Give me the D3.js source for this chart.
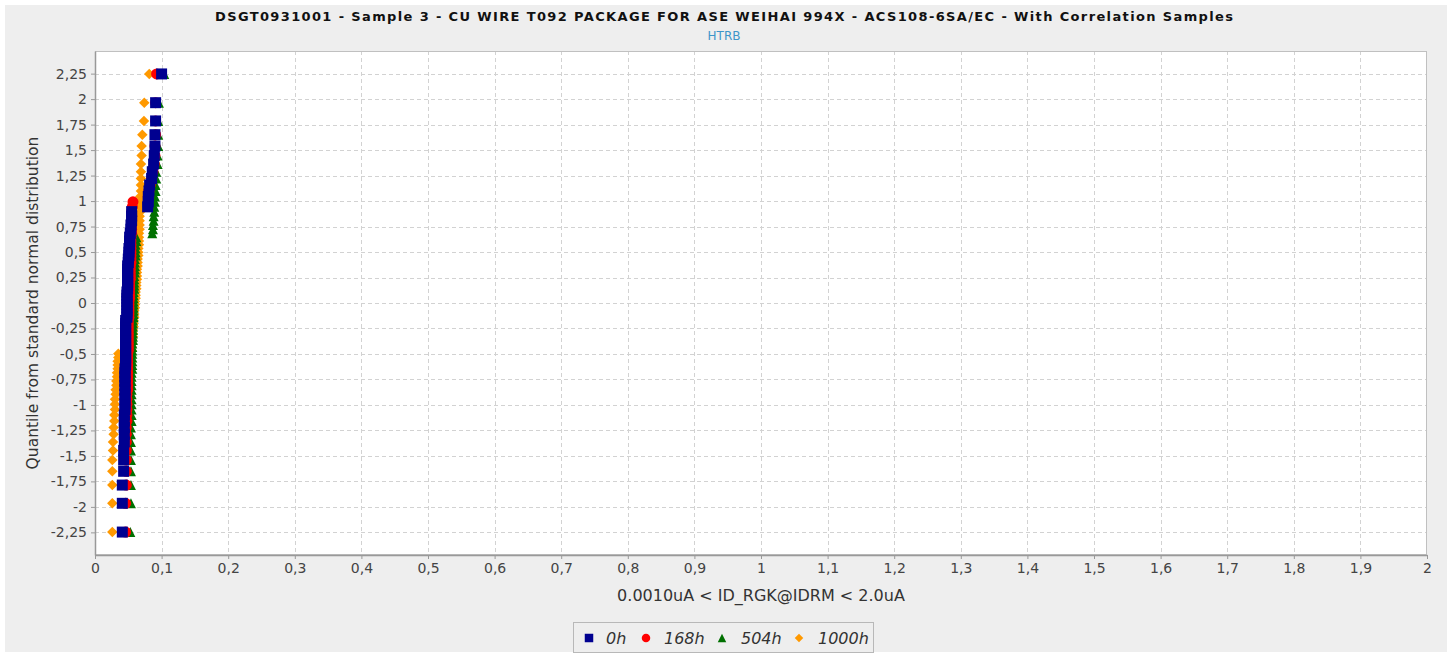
<!DOCTYPE html>
<html><head><meta charset="utf-8">
<script src="https://cdn.jsdelivr.net/npm/d3@7"></script>
<style>body{margin:0;background:#fff;} svg{display:block}</style>
</head><body><svg id="c" width="1452" height="657"></svg>
<script>
const chartTitle = "DSGT0931001 - Sample 3 - CU WIRE T092 PACKAGE FOR ASE WEIHAI 994X - ACS108-6SA/EC - With Correlation Samples";
const chartSubtitle = "HTRB";
const xLabel = "0.0010uA < ID_RGK@IDRM < 2.0uA";
const yLabel = "Quantile from standard normal distribution";
const seriesNames = ["0h", "168h", "504h", "1000h"];
const seriesColors = ["#000090", "#ff0000", "#007000", "#ff9900"];
const seriesShapes = ["square", "circle", "triangle", "diamond"];

// quantile (standard normal) of each ranked sample, 80 samples
const quantiles = [
 -2.247,-1.965,-1.786,-1.651,-1.540,-1.446,-1.363,-1.288,-1.221,-1.158,
 -1.099,-1.045,-0.992,-0.943,-0.896,-0.851,-0.807,-0.765,-0.724,-0.684,
 -0.646,-0.608,-0.571,-0.535,-0.499,-0.465,-0.431,-0.397,-0.364,-0.331,
 -0.298,-0.266,-0.234,-0.202,-0.171,-0.140,-0.108,-0.077,-0.046,-0.015,
  0.015, 0.046, 0.077, 0.108, 0.140, 0.171, 0.202, 0.234, 0.266, 0.298,
  0.331, 0.364, 0.397, 0.431, 0.465, 0.499, 0.535, 0.571, 0.608, 0.646,
  0.684, 0.724, 0.765, 0.807, 0.851, 0.896, 0.943, 0.992, 1.045, 1.099,
  1.158, 1.221, 1.288, 1.363, 1.446, 1.540, 1.651, 1.786, 1.965, 2.247
];

const values0h = [
 0.041,0.041,0.041,
 0.043,0.043,0.043,0.044,0.044,0.044,0.044,0.044,0.045,0.045,
 0.045,0.045,0.045,0.045,0.045,0.045,0.045,0.045,0.046,0.046,0.046,0.046,0.046,0.046,0.046,0.046,0.046,0.046,0.046,0.046,0.046,0.046,
 0.048,0.048,0.048,0.048,0.048,0.048,0.048,0.048,0.048,0.049,0.049,0.049,0.049,0.049,0.049,0.049,0.049,
 0.050,0.050,0.051,0.051,0.051,0.052,0.052,0.052,
 0.053,0.054,0.054,0.055,0.055,0.055,
 0.079,0.080,0.080,0.081,0.082,0.085,0.086,0.088,0.089,0.090,0.090,0.091,0.091,0.100
];
const values168h = [
 0.046,0.046,0.047,
 0.047,0.047,0.047,0.047,0.047,0.047,0.048,0.048,0.048,0.048,0.048,0.048,
 0.049,0.049,0.049,0.049,0.049,0.049,0.049,0.049,0.049,0.049,0.050,0.050,0.050,0.050,0.050,0.050,0.050,0.050,0.050,0.050,
 0.051,0.051,0.051,0.051,0.051,0.051,0.052,0.052,0.052,0.052,0.052,0.052,0.053,0.053,0.053,0.053,0.053,
 0.054,0.054,0.054,0.054,0.054,0.054,0.054,0.054,0.055,0.055,0.055,0.055,0.055,0.055,0.056,0.057,
 0.080,0.081,0.083,0.085,0.087,0.089,0.090,0.090,0.091,0.091,0.091,0.0925
];
const values504h = [
 0.053,0.054,0.054,
 0.054,0.054,0.054,0.054,0.054,0.054,0.055,0.055,0.055,0.055,0.055,0.055,
 0.055,0.055,0.055,0.055,0.055,0.056,0.056,0.056,0.056,0.056,0.056,0.056,0.056,0.057,0.057,0.057,0.057,0.057,0.057,0.057,0.058,0.058,0.058,0.058,0.058,
 0.058,0.058,0.058,0.058,0.059,0.059,0.059,0.059,0.059,0.060,0.060,0.060,0.060,0.060,0.061,0.061,0.061,0.061,0.062,0.062,
 0.086,0.087,0.087,0.088,0.088,0.089,0.089,0.090,0.090,0.091,0.091,0.092,0.092,0.094,0.094,0.095,0.095,0.095,0.096,0.104
];
const values1000h = [
 0.026,0.026,0.026,0.026,0.026,0.027,0.027,0.028,0.028,0.029,0.029,0.030,0.030,0.030,0.031,0.031,0.032,0.032,0.033,0.033,0.034,0.034,0.034,0.035,0.035,
 0.055,0.055,0.056,0.056,0.057,0.057,0.057,0.058,0.058,0.058,0.059,0.059,0.059,0.060,0.060,
 0.060,0.061,0.061,0.061,0.062,0.062,0.062,0.063,0.063,0.063,0.063,0.064,0.064,0.064,0.065,0.065,0.065,0.066,0.066,0.066,
 0.066,0.067,0.067,0.067,0.067,0.068,0.068,0.068,0.068,0.069,0.069,0.069,
 0.069,0.069,0.070,0.070,0.071,0.0735,0.074,0.0815
];
const seriesValues = [values0h, values168h, values504h, values1000h];

const xTicks = [0,0.1,0.2,0.3,0.4,0.5,0.6,0.7,0.8,0.9,1,1.1,1.2,1.3,1.4,1.5,1.6,1.7,1.8,1.9,2];
const yTicks = [-2.25,-2,-1.75,-1.5,-1.25,-1,-0.75,-0.5,-0.25,0,0.25,0.5,0.75,1,1.25,1.5,1.75,2,2.25];

const svg = d3.select("#c");
const W = 1452, H = 657;
const plot = {left: 95, right: 1427, top: 51, bottom: 555};
const FONT = "'DejaVu Sans', sans-serif";

const loc = d3.formatLocale({decimal: ",", thousands: ".", grouping: [3], currency: ["", ""], minus: "-"});
const fmt = loc.format("~g");

svg.append("rect").attr("x", 5).attr("y", 5).attr("width", W - 10).attr("height", H - 10).attr("fill", "#eeeeee");

const x = d3.scaleLinear().domain([0, 2]).range([plot.left, plot.right]);
const y = d3.scaleLinear().domain([-2.472, 2.472]).range([plot.bottom, plot.top]);

// plot background
svg.append("rect").attr("x", plot.left).attr("y", plot.top)
  .attr("width", plot.right - plot.left).attr("height", plot.bottom - plot.top)
  .attr("fill", "#ffffff");

// grid
const grid = svg.append("g").attr("stroke", "#d2d2d2").attr("stroke-width", 1).attr("stroke-dasharray", "4,3");
grid.selectAll("line.v").data(xTicks.filter(d => d > 0 && d < 2)).join("line")
  .attr("x1", d => Math.round(x(d)) + 0.5).attr("x2", d => Math.round(x(d)) + 0.5)
  .attr("y1", plot.top).attr("y2", plot.bottom);
grid.selectAll("line.h").data(yTicks).join("line")
  .attr("y1", d => Math.round(y(d)) + 0.5).attr("y2", d => Math.round(y(d)) + 0.5)
  .attr("x1", plot.left).attr("x2", plot.right);

// plot outline
svg.append("rect").attr("x", plot.left + 0.5).attr("y", plot.top + 0.5)
  .attr("width", plot.right - plot.left - 1).attr("height", plot.bottom - plot.top - 1)
  .attr("fill", "none").attr("stroke", "#c0c0c0").attr("stroke-width", 1);

// shapes
function shapePath(kind, s) {
  const h = s / 2;
  if (kind === "square") return `M${-h},${-h}H${h}V${h}H${-h}Z`;
  if (kind === "circle") return `M${h},0A${h},${h} 0 1,1 ${-h},0A${h},${h} 0 1,1 ${h},0Z`;
  if (kind === "triangle") return `M0,${-h}L${h},${h}L${-h},${h}Z`;
  return `M0,${-h}L${h},0L0,${h}L${-h},0Z`;
}
const markerSize = [11, 11, 10, 10.5];

// draw series in reverse order (first series on top)
for (let s = seriesNames.length - 1; s >= 0; s--) {
  const pts = seriesValues[s].map((v, i) => ({v, q: quantiles[i]}));
  svg.append("g").selectAll("path").data(pts).join("path")
    .attr("d", shapePath(seriesShapes[s], markerSize[s]))
    .attr("transform", d => `translate(${x(d.v)},${y(d.q)})`)
    .attr("fill", seriesColors[s]);
}

// axes
const axisColor = "#999999";
const gx = svg.append("g").attr("transform", `translate(0,${plot.bottom})`)
  .call(d3.axisBottom(x).tickValues(xTicks).tickFormat(fmt).tickSize(4).tickPadding(4).tickSizeOuter(0));
const gy = svg.append("g").attr("transform", `translate(${plot.left},0)`)
  .call(d3.axisLeft(y).tickValues(yTicks).tickFormat(fmt).tickSize(4).tickPadding(4).tickSizeOuter(0));
[gx, gy].forEach(g => {
  g.select(".domain").attr("stroke", axisColor).attr("stroke-width", 1.5);
  g.selectAll(".tick line").attr("stroke", axisColor);
  g.selectAll(".tick text").attr("fill", "#444").style("font-family", FONT).style("font-size", "14px");
});

// titles
svg.append("text").attr("x", 724).attr("y", 21).attr("text-anchor", "middle")
  .attr("font-family", FONT).attr("font-weight", "bold").attr("font-size", 13)
  .attr("textLength", 1018).attr("lengthAdjust", "spacing")
  .attr("fill", "#111").text(chartTitle);
svg.append("text").attr("x", 724).attr("y", 40).attr("text-anchor", "middle")
  .attr("font-family", FONT).attr("font-size", 12).attr("fill", "#3d95c9").text(chartSubtitle);
svg.append("text").attr("x", (plot.left + plot.right) / 2).attr("y", 601).attr("text-anchor", "middle")
  .attr("font-family", FONT).attr("font-size", 16).attr("fill", "#333").text(xLabel);
svg.append("text").attr("transform", `translate(38,${(plot.top + plot.bottom) / 2}) rotate(-90)`)
  .attr("text-anchor", "middle").attr("font-family", FONT).attr("font-size", 15.5).attr("fill", "#333").text(yLabel);

// legend
const legend = svg.append("g");
legend.append("rect").attr("x", 573.5).attr("y", 622.5).attr("width", 300).attr("height", 30)
  .attr("fill", "#eeeeee").attr("stroke", "#b8b8b8");
const markerX = [589, 646, 722, 799];
const textX = [606, 664, 741, 818];
seriesNames.forEach((n, s) => {
  legend.append("path").attr("d", shapePath(seriesShapes[s], 8.5))
    .attr("transform", `translate(${markerX[s]},638)`).attr("fill", seriesColors[s]);
  legend.append("text").attr("x", textX[s]).attr("y", 644)
    .attr("font-family", FONT).attr("font-style", "italic").attr("font-size", 16)
    .attr("fill", "#333").text(n);
});
</script></body></html>
